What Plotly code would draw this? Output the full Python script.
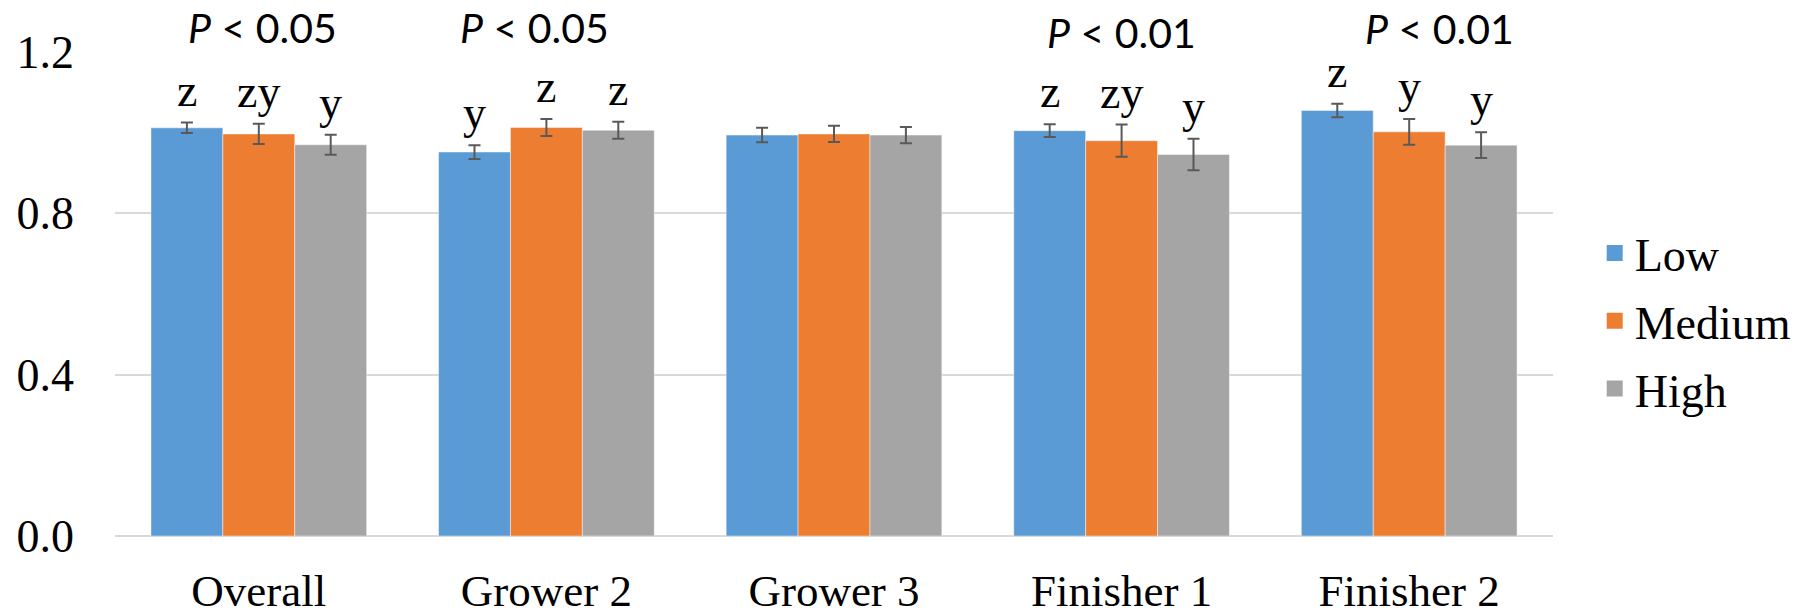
import plotly.graph_objects as go

# Relative values by phase and level, with standard errors
categories = ["Overall", "Grower 2", "Grower 3", "Finisher 1", "Finisher 2"]
levels = ["Low", "Medium", "High"]

low_vals = [1.012, 0.952, 0.994, 1.005, 1.055]
medium_vals = [0.997, 1.013, 0.997, 0.980, 1.002]
high_vals = [0.970, 1.006, 0.994, 0.946, 0.969]

low_err = [0.013, 0.017, 0.018, 0.016, 0.017]
medium_err = [0.025, 0.021, 0.020, 0.040, 0.032]
high_err = [0.025, 0.021, 0.020, 0.039, 0.032]

low_letters = ["z", "y", "", "z", "z"]
medium_letters = ["zy", "z", "", "zy", "y"]
high_letters = ["y", "z", "", "y", "y"]

p_labels = ["P < 0.05", "P < 0.05", "", "P < 0.01", "P < 0.01"]

y_ticks = [0.0, 0.4, 0.8, 1.2]

colors = ["#5B9BD5", "#ED7D31", "#A5A5A5"]
series_vals = [low_vals, medium_vals, high_vals]
series_err = [low_err, medium_err, high_err]
series_letters = [low_letters, medium_letters, high_letters]

SERIF = "Liberation Serif, Times New Roman, serif"
SANS = "Lato, Carlito, Calibri, sans-serif"

fig = go.Figure()

for name, vals, errs, col in zip(levels, series_vals, series_err, colors):
    fig.add_trace(go.Bar(
        name=name,
        x=categories,
        y=vals,
        marker=dict(color=col, line=dict(color="rgba(255,255,255,0.45)", width=1)),
        error_y=dict(type="data", array=errs, visible=True,
                     color="#595959", thickness=2, width=6),
        showlegend=False,
    ))
    # legend swatch
    fig.add_trace(go.Scatter(
        name=name, x=[None], y=[None], mode="markers",
        marker=dict(symbol="square", size=16, color=col),
        legendgroup=name, showlegend=True,
    ))

annotations = []

# significance letters above each bar's error bar
bar_offset = 0.25
for j, (vals, errs, letters) in enumerate(zip(series_vals, series_err, series_letters)):
    for i, (v, e, t) in enumerate(zip(vals, errs, letters)):
        if not t:
            continue
        annotations.append(dict(
            x=i + (j - 1) * bar_offset, y=v + e, xref="x", yref="y",
            text=t, showarrow=False, yanchor="bottom", xanchor="center",
            yshift=5, font=dict(family=SERIF, size=46, color="black"),
        ))

# P-value headers over each phase
p_shift = [4, -12, 0, 0, 30]
p_ypos = [1.050, 1.050, 1.050, 1.040, 1.048]
for i, t in enumerate(p_labels):
    if not t:
        continue
    head, tail = t.split(" ", 1)
    annotations.append(dict(
        x=i, y=p_ypos[i], xref="x", yref="paper",
        text="<i>" + head + "</i> " + tail.replace("<", "&lt;"),
        showarrow=False, xanchor="center", yanchor="middle", xshift=p_shift[i],
        font=dict(family=SANS, size=41, color="black"),
    ))

fig.update_layout(
    width=1809, height=615,
    margin=dict(l=115, r=252, t=52, b=79),
    paper_bgcolor="white", plot_bgcolor="white",
    barmode="group", bargap=0.25, bargroupgap=0,
    annotations=annotations,
    legend=dict(
        x=1.029, xanchor="left", y=0.444, yanchor="middle",
        font=dict(family=SERIF, size=46, color="black"),
        itemsizing="trace", itemwidth=30, tracegroupgap=5,
        bgcolor="rgba(0,0,0,0)",
    ),
    xaxis=dict(
        type="category", showgrid=False, showline=False, zeroline=False,
        tickfont=dict(family=SERIF, size=45, color="black"),
        ticks="", ticklabelstandoff=24, automargin=False,
    ),
    yaxis=dict(
        range=[0, 1.2], tickvals=y_ticks, tickformat=".1f",
        showgrid=True, gridcolor="#D9D9D9", gridwidth=2,
        zeroline=True, zerolinecolor="#D9D9D9", zerolinewidth=2,
        showline=False, ticks="",
        tickfont=dict(family=SERIF, size=46, color="black"),
        ticklabelstandoff=40, automargin=False,
    ),
)

fig.write_html("out.html")
